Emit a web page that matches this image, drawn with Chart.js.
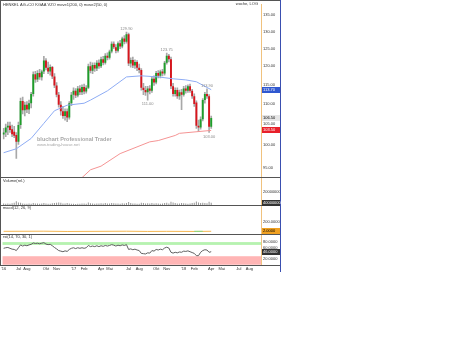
<!DOCTYPE html>
<html>
<head>
<meta charset="utf-8">
<script src="https://cdn.jsdelivr.net/npm/chart.js@4.4.1/dist/chart.umd.min.js"></script>
<style>
  html, body { margin: 0; padding: 0; background: #fff; }
  #wrap { position: absolute; left: 0; top: 0; width: 281px; height: 272px; }
</style>
</head>
<body>
<div id="wrap"><canvas id="chart" width="281" height="272"></canvas></div>
<script>
// Wochenkerzen HENKEL VZ, erste Woche 2016-05-16
const startWeek = '2016-05-16';
const weekCount = 122; // inkl. leerer Bereich rechts

const opens = [
  102.5, 103.0, 104.2, 104.6, 103.8, 103.2, 102.4, 100.8, 104.8, 110.8,
  108.4, 109.8, 108.6, 110.2, 112.6, 117.8, 116.4, 118.2, 117.0, 118.6,
  121.6, 119.6, 118.6, 119.8, 117.2, 114.8, 112.4, 109.8, 108.2, 107.0,
  108.2, 106.6, 110.2, 112.4, 113.4, 112.2, 114.0, 113.0, 114.4, 113.2,
  114.2, 120.0, 118.8, 120.4, 119.4, 121.0, 120.0, 122.0, 121.0, 123.0,
  122.4, 124.2, 126.4, 125.4, 124.4, 126.6, 125.6, 128.0, 127.0, 129.2,
  120.8, 121.8, 120.2, 121.2, 119.6, 119.0, 114.2, 113.6, 113.0, 114.0,
  113.4, 116.6, 115.6, 118.2, 117.4, 118.6, 118.0, 121.0, 123.0, 122.0,
  114.6, 112.6, 113.6, 112.0, 113.0, 112.4, 114.0, 113.4, 114.6, 113.4,
  112.0, 110.4, 104.6, 104.2, 106.2, 111.0, 112.6, 112.0, 104.4
];
const highs = [
  104.0, 105.0, 105.5, 105.5, 104.8, 104.5, 103.0, 105.5, 111.5, 111.8,
  110.5, 110.6, 111.0, 113.0, 118.5, 118.6, 118.8, 119.2, 119.0, 122.8,
  122.2, 121.2, 120.4, 120.0, 118.0, 115.6, 113.0, 110.6, 109.4, 108.8,
  108.8, 110.6, 113.0, 114.2, 114.0, 114.6, 114.8, 115.0, 115.2, 114.8,
  120.6, 121.2, 121.0, 121.0, 121.6, 121.8, 122.6, 122.8, 123.6, 123.8,
  124.6, 127.0, 127.0, 126.2, 127.0, 127.4, 128.4, 128.8, 129.9, 129.6,
  122.4, 122.6, 121.8, 121.6, 120.6, 119.4, 115.4, 114.6, 114.6, 114.8,
  117.0, 117.4, 118.6, 118.8, 119.0, 119.2, 121.4, 123.75, 123.4, 122.6,
  115.4, 114.2, 114.2, 113.6, 113.8, 114.6, 114.8, 115.0, 115.2, 113.8,
  112.6, 110.8, 106.0, 106.8, 111.4, 113.0, 113.9, 112.4, 107.0
];
const lows = [
  101.5, 102.0, 102.5, 103.0, 102.0, 101.8, 97.0, 100.2, 104.0, 107.5,
  107.0, 107.8, 107.6, 109.0, 112.0, 115.6, 115.8, 116.4, 116.2, 118.0,
  119.0, 118.0, 117.6, 116.6, 114.2, 111.8, 109.2, 107.2, 106.4, 106.0,
  105.6, 106.2, 109.6, 111.2, 111.6, 111.8, 112.4, 112.4, 112.6, 112.8,
  114.0, 118.2, 118.0, 118.6, 118.8, 119.4, 119.6, 120.4, 120.6, 121.8,
  122.0, 123.8, 125.0, 123.8, 124.0, 125.0, 125.2, 126.4, 126.6, 120.2,
  119.8, 119.6, 119.4, 118.8, 118.2, 113.6, 112.4, 112.2, 111.0, 112.6,
  113.0, 114.8, 115.2, 116.8, 116.8, 117.4, 117.6, 120.6, 121.2, 114.0,
  112.0, 112.0, 111.4, 111.2, 108.6, 112.0, 112.8, 113.0, 113.0, 111.4,
  109.4, 104.0, 103.2, 103.8, 105.8, 110.2, 111.4, 103.0, 104.0
];
const closes = [
  103.0, 104.2, 104.6, 103.6, 102.6, 102.2, 100.8, 104.8, 110.8, 108.4,
  109.8, 108.6, 110.2, 112.6, 117.8, 116.4, 118.2, 117.0, 118.6, 121.6,
  119.6, 118.6, 119.8, 117.2, 114.8, 112.4, 109.8, 108.2, 107.0, 108.2,
  106.6, 110.2, 112.4, 113.4, 112.2, 114.0, 113.0, 114.4, 113.2, 114.2,
  120.0, 118.8, 120.4, 119.4, 121.0, 120.0, 122.0, 121.0, 123.0, 122.4,
  124.2, 126.4, 125.4, 124.4, 126.6, 125.6, 128.0, 127.0, 129.2, 120.8,
  121.8, 120.2, 121.2, 119.6, 119.0, 114.2, 113.6, 113.0, 114.0, 113.4,
  116.6, 115.6, 118.2, 117.4, 118.6, 118.0, 121.0, 123.0, 122.0, 114.6,
  112.6, 113.6, 112.0, 113.0, 112.4, 114.0, 113.4, 114.6, 113.4, 112.0,
  110.0, 104.6, 104.2, 106.2, 111.0, 112.6, 112.0, 104.4, 106.5
];

// Umsatz in Mio
const volumeMio = [
  30, 26, 28, 24, 32, 40, 62, 45, 38, 30,
  26, 24, 28, 25, 36, 30, 27, 25, 28, 34,
  30, 26, 24, 32, 36, 40, 44, 38, 30, 28,
  34, 30, 26, 24, 22, 26, 24, 28, 30, 26,
  42, 32, 28, 26, 30, 28, 32, 30, 34, 28,
  30, 36, 32, 28, 30, 26, 32, 30, 34, 52,
  36, 30, 28, 26, 24, 40, 34, 30, 32, 28,
  34, 30, 32, 28, 26, 30, 34, 38, 30, 56,
  42, 34, 30, 28, 36, 32, 28, 26, 30, 34,
  38, 60, 44, 36, 40, 34, 32, 54, 40
];

const rsiValues = [
  58, 60, 61, 58, 55, 54, 50, 60, 70, 66,
  69, 67, 70, 72, 77, 75, 76, 74, 76, 78,
  73, 71, 72, 67, 61, 56, 50, 48, 46, 49,
  47, 54, 58, 60, 57, 60, 58, 60, 58, 60,
  68, 64, 66, 64, 67, 64, 67, 65, 68, 66,
  68, 71, 69, 66, 69, 67, 70, 68, 71, 54,
  56, 53, 55, 52, 50, 40, 39, 38, 42, 41,
  50, 48, 54, 52, 55, 53, 59, 62, 59, 44,
  41, 44, 42, 45, 44, 48, 47, 49, 46, 43,
  40, 32, 32, 44, 50, 53, 52, 44, 46
];

// gleitende Durchschnitte
const ma50 = [
  ['2016-05-16', 98.3], ['2016-06-27', 99.2], ['2016-08-15', 101.6], ['2016-09-26', 105.2],
  ['2016-10-31', 108.3], ['2016-12-12', 109.7], ['2017-02-06', 110.2], ['2017-02-27', 111.0],
  ['2017-04-24', 113.4], ['2017-06-26', 117.1], ['2017-08-14', 117.4], ['2017-10-09', 117.1],
  ['2017-11-27', 116.6], ['2018-01-08', 116.3], ['2018-02-12', 115.8], ['2018-04-02', 113.7]
];
const ma200 = [
  ['2017-01-30', 92.8], ['2017-02-27', 94.5], ['2017-04-03', 95.3], ['2017-06-05', 98.1],
  ['2017-09-11', 100.8], ['2017-10-09', 101.1], ['2017-12-04', 102.3], ['2017-12-18', 102.8],
  ['2018-04-02', 103.5]
];

const macdLine = [
  ['2016-05-16', 1.2], ['2016-09-26', 3.8], ['2016-12-12', -1.9], ['2017-06-26', 3.1],
  ['2017-09-04', -1.2], ['2017-11-06', 0.8], ['2018-02-12', -1.5], ['2018-04-02', 2.0]
];
const macdSignal = [['2018-02-05', 1.0], ['2018-03-05', 1.5]];

const extremes = [
  ['2017-06-26', 129.90, 'hoch'],
  ['2017-09-04', 111.00, 'tief'],
  ['2017-11-06', 123.75, 'hoch'],
  ['2018-03-19', 113.90, 'hoch'],
  ['2018-03-26', 103.00, 'tief']
];

const priceTicks = [95, 100, 105, 110, 115, 120, 125, 130, 135];
const volumeTicks = [200000000];
const macdTicks = [200];
const rsiTicks = [20, 60, 80];
const rsiBands = [[70, 80], [0, 30]];
const monthLabels = ['', 'Feb', '', 'Apr', 'Mai', '', 'Jul', 'Aug', '', 'Okt', 'Nov', ''];

// Wochen-Kategorien
const weeks = [];
const d0 = new Date(startWeek + 'T00:00:00Z');
for (let i = 0; i < weekCount; i++) {
    weeks.push(new Date(d0.getTime() + i * 7 * 86400000).toISOString().slice(0, 10));
}

const FONT = '"Liberation Sans", Arial, sans-serif';
const tickFont = { family: 'Liberation Sans', size: 4 };

function fixWidth(scale) { scale.width = 20; }
function setTicks(list) {
    return function (scale) { scale.ticks = list.map(v => ({ value: v })); };
}
function yAxis(extra) {
    return Object.assign({
        position: 'right',
        stack: 'panels',
        grid: { display: false, drawTicks: false },
        border: { display: true, color: '#f0c27e', dash: [1, 1] },
        ticks: { font: tickFont, color: '#333', padding: 2 },
        afterFit: fixWidth
    }, extra);
}

const bodies = opens.map((o, i) => [o, closes[i]]);
const wicks = lows.map((l, i) => [l, highs[i]]);
const bodyColors = opens.map((o, i) => closes[i] >= o ? '#1e9e2a' : '#d8141c');
const toXY = list => list.map(([d, v]) => ({ x: d, y: v }));

// Deko: Rahmen, Texte, Zonen, Wertboxen
const panelDecor = {
    id: 'panelDecor',
    beforeDatasetsDraw(chart) {
        const { ctx, chartArea, scales } = chart;
        ctx.save();
        const r = scales.yRsi;
        rsiBands.forEach(([lo, hi], k) => {
            ctx.fillStyle = k === 0 ? '#b6f2b0' : '#ffb5b5';
            const y1 = r.getPixelForValue(hi);
            const y2 = r.getPixelForValue(lo);
            ctx.fillRect(chartArea.left, y1, chartArea.right - chartArea.left, y2 - y1);
        });
        // Wasserzeichen
        ctx.fillStyle = '#a8a8a8';
        ctx.textBaseline = 'middle';
        ctx.font = 'bold 5.5px ' + FONT;
        ctx.fillText('bluchart Professional Trader', 37, 139);
        ctx.font = '4.2px ' + FONT;
        ctx.fillText('www.trading-house.net', 37, 145);
        ctx.restore();
    },
    afterDraw(chart) {
        const { ctx, chartArea, scales, width } = chart;
        const x = scales.x;
        ctx.save();
        // Trennlinien
        ctx.strokeStyle = '#555';
        ctx.lineWidth = 1;
        ctx.beginPath();
        ctx.moveTo(0, 0.5); ctx.lineTo(width, 0.5);
        ['y', 'yVol', 'yMacd', 'yRsi'].forEach(id => {
            const b = Math.round(scales[id].bottom) + 0.5;
            ctx.moveTo(0, b); ctx.lineTo(width, b);
        });
        ctx.moveTo(0.5, 0); ctx.lineTo(0.5, chartArea.bottom);
        ctx.stroke();
        ctx.strokeStyle = '#3a4fb0';
        ctx.beginPath();
        ctx.moveTo(width - 0.5, 0); ctx.lineTo(width - 0.5, chart.height);
        ctx.stroke();

        // Titel
        ctx.fillStyle = '#333';
        ctx.textBaseline = 'middle';
        ctx.font = '4px ' + FONT;
        ctx.textAlign = 'left';
        ctx.fillText('HENKEL AG+CO KGAA VZO move1(200, 0) move2(50, 0)', 3, 5);
        ctx.textAlign = 'right';
        ctx.fillText('woche, LOG', chartArea.right - 3, 4);
        ctx.textAlign = 'left';
        ctx.fillText('Volume(rel.)', 3, scales.yVol.top + 3);
        ctx.fillText('macd(12, 26, 9)', 3, scales.yMacd.top + 3);
        ctx.fillText('rsi(14, 70, 30, 1)', 3, scales.yRsi.top + 3);

        // Hoch/Tief-Marken
        ctx.fillStyle = '#8a8a8a';
        ctx.textAlign = 'center';
        extremes.forEach(([d, v, kind]) => {
            const px = x.getPixelForValue(weeks.indexOf(d));
            const py = scales.y.getPixelForValue(v);
            ctx.fillText(v.toFixed(2), px, kind === 'hoch' ? py - 3 : py + 4);
        });

        // Wertboxen an der Achse
        const boxes = [
            ['y', ma50[ma50.length - 1][1], ma50[ma50.length - 1][1].toFixed(2), '#3058d0', '#fff'],
            ['y', closes[closes.length - 1], closes[closes.length - 1].toFixed(2), '#e6e6e6', '#000'],
            ['y', ma200[ma200.length - 1][1], ma200[ma200.length - 1][1].toFixed(2), '#e8202a', '#fff'],
            ['yVol', volumeMio[volumeMio.length - 1] * 1e6, String(volumeMio[volumeMio.length - 1] * 1e6), '#333', '#fff'],
            ['yMacd', macdLine[macdLine.length - 1][1], macdLine[macdLine.length - 1][1].toFixed(4), '#f0a020', '#000'],
            ['yRsi', rsiValues[rsiValues.length - 1], rsiValues[rsiValues.length - 1].toFixed(4), '#333', '#fff']
        ];
        ctx.textAlign = 'left';
        boxes.forEach(([id, v, txt, bg, fg]) => {
            const py = Math.round(scales[id].getPixelForValue(v));
            ctx.fillStyle = bg;
            ctx.fillRect(chartArea.right + 1, py - 3, 18, 6);
            ctx.fillStyle = fg;
            ctx.fillText(txt, chartArea.right + 2, py);
        });
        ctx.restore();
    }
};

new Chart(document.getElementById('chart'), {
    type: 'bar',
    data: {
        labels: weeks,
        datasets: [
            {
                type: 'line', data: toXY(ma50), yAxisID: 'y', order: 0,
                borderColor: '#8eacf4', borderWidth: 1, pointRadius: 0
            },
            {
                type: 'line', data: toXY(ma200), yAxisID: 'y', order: 0,
                borderColor: '#f59494', borderWidth: 1, pointRadius: 0
            },
            {
                data: bodies, yAxisID: 'y', grouped: false, order: 1,
                backgroundColor: bodyColors, barPercentage: 0.9, categoryPercentage: 1
            },
            {
                data: wicks, yAxisID: 'y', grouped: false, order: 2,
                backgroundColor: '#a8a8a8', barThickness: 1
            },
            {
                data: volumeMio.map(v => v * 1e6), yAxisID: 'yVol', grouped: false, order: 3,
                backgroundColor: '#9a9a9a', barPercentage: 0.5, categoryPercentage: 1
            },
            {
                type: 'line', data: toXY(macdLine), yAxisID: 'yMacd', order: 3,
                borderColor: '#f5b650', borderWidth: 1, pointRadius: 0
            },
            {
                type: 'line', data: toXY(macdSignal), yAxisID: 'yMacd', order: 2,
                borderColor: '#7fd87f', borderWidth: 1, pointRadius: 0
            },
            {
                type: 'line', data: rsiValues, yAxisID: 'yRsi', order: 3,
                borderColor: '#606060', borderWidth: 1, pointRadius: 0
            }
        ]
    },
    options: {
        responsive: false,
        animation: false,
        layout: { padding: { left: 2, top: 3, right: 0, bottom: 0 } },
        plugins: { legend: { display: false }, tooltip: { enabled: false } },
        scales: {
            x: {
                type: 'category',
                offset: true,
                grid: { display: false, drawTicks: false },
                border: { display: false },
                afterFit: function (scale) { scale.height = 7; },
                ticks: {
                    autoSkip: false, maxRotation: 0, minRotation: 0, padding: 1,
                    font: tickFont, color: '#333',
                    callback: function (value, index) {
                        const d = new Date(weeks[index] + 'T00:00:00Z');
                        const yr = "'" + String(d.getUTCFullYear()).slice(2);
                        if (index === 0) return yr;
                        if (d.getUTCDate() > 7) return '';
                        if (d.getUTCMonth() === 0) return yr;
                        return monthLabels[d.getUTCMonth()];
                    }
                }
            },
            y: yAxis({
                type: 'logarithmic', stackWeight: 174, min: 92.84, max: 138.45,
                afterBuildTicks: setTicks(priceTicks),
                ticks: { font: tickFont, color: '#333', padding: 2, callback: v => Number(v).toFixed(2) }
            }),
            yVol: yAxis({
                type: 'linear', stackWeight: 28, min: 0, max: 430000000,
                afterBuildTicks: setTicks(volumeTicks),
                ticks: { font: tickFont, color: '#333', padding: 2, callback: v => String(v) }
            }),
            yMacd: yAxis({
                type: 'linear', stackWeight: 29, min: -60, max: 560,
                afterBuildTicks: setTicks(macdTicks),
                ticks: { font: tickFont, color: '#333', padding: 2, callback: v => Number(v).toFixed(4) }
            }),
            yRsi: yAxis({
                type: 'linear', stackWeight: 31, min: -1, max: 108,
                afterBuildTicks: setTicks(rsiTicks),
                ticks: { font: tickFont, color: '#333', padding: 2, callback: v => Number(v).toFixed(4) }
            })
        }
    },
    plugins: [panelDecor]
});
</script>
</body>
</html>
